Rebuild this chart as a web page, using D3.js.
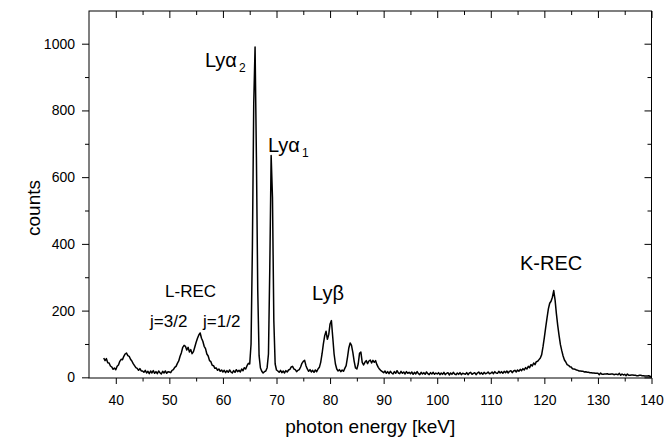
<!DOCTYPE html>
<html>
<head>
<meta charset="utf-8">
<script src="https://cdn.jsdelivr.net/npm/d3@7"></script>
<style>
  body { margin: 0; background: #fff; }
  svg { font-family: "Liberation Sans", Arial, Helvetica, sans-serif; }
  .axis text { font-size: 14px; fill: #000; }
  .axis line, .axis path { stroke: #000; }
</style>
</head>
<body>
<div id="chart"></div>
<script>
// spectrum channels: 0.25 keV wide, first channel at 37.75 keV
var energyStart = 37.75,
energyStep = 0.25;

var counts = [
  /* 37.75 */ 58, 50, 56, 44, 43, 34, 31, 24, 28,
  /* 40 */ 23, 33, 37, 48, 54, 53, 63, 70, 73, 65, 63, 54, 49, 41, 35, 29, 27, 21, 26, 19,
  /* 45 */ 19, 15, 21, 13, 18, 11, 19, 13, 20, 12, 17, 11, 19, 14, 10, 18, 13, 19, 12, 17,
  /* 50 */ 16, 14, 21, 23, 30, 33, 42, 49, 63, 74, 90, 96, 93, 82, 90, 76, 83, 71, 77, 91,
  /* 55 */ 105, 117, 127, 133, 117, 108, 93, 86, 70, 64, 50, 47, 36, 35, 27, 28, 21, 25, 18, 22,
  /* 60 */ 16, 21, 14, 20, 15, 22, 16, 13, 20, 15, 23, 17, 21, 16, 25, 20, 29, 25, 35, 42,
  /* 65 */ 40, 100, 390, 820, 990, 660, 260, 65, 28, 18, 13, 17, 19, 29, 70, 330, 665, 540, 170, 40,
  /* 70 */ 22, 19, 15, 21, 14, 19, 13, 20, 16, 22, 24, 31, 33, 25, 23, 17, 21, 23, 31, 42,
  /* 75 */ 48, 51, 35, 25, 18, 23, 16, 21, 15, 22, 17, 25, 30, 45, 70, 100, 125, 138, 114, 128,
  /* 80 */ 160, 170, 120, 70, 40, 25, 19, 23, 17, 22, 18, 27, 35, 60, 88, 103, 96, 75, 48, 28,
  /* 85 */ 25, 40, 72, 76, 45, 37, 45, 50, 41, 49, 52, 43, 51, 45, 50, 38, 30, 24, 20, 17,
  /* 90 */ 14, 19, 12, 17, 11, 18, 13, 10, 17, 12, 20, 13, 11, 18, 12, 16, 10, 17, 12, 15,
  /* 95 */ 11, 16, 9, 15, 10, 17, 11, 8, 15, 10, 14, 9, 16, 11, 8, 14, 10, 15, 9, 13,
  /* 100 */ 10, 14, 8, 13, 9, 15, 8, 12, 14, 7, 13, 9, 15, 10, 8, 13, 9, 14, 8, 12,
  /* 105 */ 11, 9, 14, 8, 13, 15, 9, 12, 14, 8, 13, 16, 10, 14, 9, 15, 11, 12, 16, 11,
  /* 110 */ 12, 16, 11, 17, 13, 12, 18, 13, 17, 12, 18, 14, 19, 13, 18, 20, 14, 19, 21, 16,
  /* 115 */ 22, 18, 24, 20, 26, 22, 29, 25, 33, 29, 38, 34, 43, 38, 47, 48, 53, 58, 68, 92,
  /* 120 */ 120, 150, 178, 205, 222, 228, 240, 260, 232, 190, 155, 125, 98, 80, 64, 52, 46, 38, 36, 32,
  /* 125 */ 31, 26, 25, 24, 22, 21, 19, 19, 18, 18, 16, 17, 15, 15, 14, 14, 13, 13, 12, 12,
  /* 130 */ 12, 8, 13, 9, 9, 10, 10, 11, 9, 9, 10, 10, 8, 9, 9, 8, 12, 6, 10, 7,
  /* 135 */ 9, 5, 10, 6, 6, 7, 7, 6, 6, 5, 5, 6, 6, 5, 5, 4, 4, 4, 5, 2,
  /* 140 */ 3
];

var xMajorTicks = [40, 50, 60, 70, 80, 90, 100, 110, 120, 130, 140];
var xMinorTicks = [45, 55, 65, 75, 85, 95, 105, 115, 125, 135];
var yMajorTicks = [0, 200, 400, 600, 800, 1000];
var yMinorTicks = [100, 300, 500, 700, 900];

// peak labels, anchored in data units (keV, counts)
var labelNames = ["Ly", "Ly", "Ly", "K-REC", "L-REC", "j=3/2", "j=1/2"];
var labelGreek = ["α", "α", "β", "", "", "", ""];
var labelSubs = ["2", "1", "", "", "", "", ""];
var labelEnergy = [56.65, 68.41, 76.63, 115.46, 49.19, 46.39, 56.28];
var labelCounts = [930, 675, 233, 323, 241, 151, 151];
var labelBig = [true, true, true, true, false, false, false];

var width = 670,
height = 443,
plotLeft = 89,
plotRight = 651.5,
plotTop = 11,
plotBottom = 378;

var svg = d3.select("#chart").append("svg")
.attr("width", width)
.attr("height", height);

var x = d3.scaleLinear().domain([35, 140]).range([plotLeft, plotRight]);
var y = d3.scaleLinear().domain([-2, 1098]).range([plotBottom, plotTop]);

// frame
svg.append("rect")
.attr("x", plotLeft).attr("y", plotTop)
.attr("width", plotRight - plotLeft).attr("height", plotBottom - plotTop)
.attr("fill", "none").attr("stroke", "#000").attr("stroke-width", 1);

function noDomain(g) { g.select(".domain").remove(); g.attr("font-family", null); }

// bottom axis
svg.append("g").attr("class", "axis")
.attr("transform", "translate(0," + plotBottom + ")")
.call(d3.axisBottom(x).tickValues(xMajorTicks).tickSizeInner(6).tickSizeOuter(0).tickPadding(11).tickFormat(d3.format("d")))
.call(noDomain);

svg.append("g").attr("class", "axis")
.attr("transform", "translate(0," + plotBottom + ")")
.call(d3.axisBottom(x).tickValues(xMinorTicks).tickSizeInner(3.5).tickSizeOuter(0).tickFormat(""))
.call(noDomain);

// top axis, ticks inward
svg.append("g").attr("class", "axis")
.attr("transform", "translate(0," + plotTop + ")")
.call(d3.axisTop(x).tickValues(xMajorTicks).tickSizeInner(-7).tickSizeOuter(0).tickFormat(""))
.call(noDomain);

svg.append("g").attr("class", "axis")
.attr("transform", "translate(0," + plotTop + ")")
.call(d3.axisTop(x).tickValues(xMinorTicks).tickSizeInner(-4).tickSizeOuter(0).tickFormat(""))
.call(noDomain);

// left axis
svg.append("g").attr("class", "axis")
.attr("transform", "translate(" + plotLeft + ",0)")
.call(d3.axisLeft(y).tickValues(yMajorTicks).tickSizeInner(7).tickSizeOuter(0).tickPadding(7).tickFormat(d3.format("d")))
.call(noDomain);

svg.append("g").attr("class", "axis")
.attr("transform", "translate(" + plotLeft + ",0)")
.call(d3.axisLeft(y).tickValues(yMinorTicks).tickSizeInner(4).tickSizeOuter(0).tickFormat(""))
.call(noDomain);

// right axis, ticks inward
svg.append("g").attr("class", "axis")
.attr("transform", "translate(" + plotRight + ",0)")
.call(d3.axisRight(y).tickValues(yMajorTicks).tickSizeInner(-7).tickSizeOuter(0).tickFormat(""))
.call(noDomain);

svg.append("g").attr("class", "axis")
.attr("transform", "translate(" + plotRight + ",0)")
.call(d3.axisRight(y).tickValues(yMinorTicks).tickSizeInner(-4).tickSizeOuter(0).tickFormat(""))
.call(noDomain);

// the spectrum
var line = d3.line()
.x(function(d, i) { return x(energyStart + i * energyStep); })
.y(function(d) { return y(d); });

svg.append("path")
.datum(counts)
.attr("d", line)
.attr("fill", "none")
.attr("stroke", "#000")
.attr("stroke-width", 1.5)
.attr("stroke-linejoin", "round");

// axis titles
svg.append("text")
.attr("x", (plotLeft + plotRight) / 2)
.attr("y", 433)
.attr("text-anchor", "middle")
.attr("font-size", 19)
.text("photon energy [keV]");

svg.append("text")
.attr("transform", "translate(40,208) rotate(-90)")
.attr("text-anchor", "middle")
.attr("font-size", 19)
.text("counts");

// peak labels
labelNames.forEach(function(name, i) {
  var t = svg.append("text")
  .attr("x", x(labelEnergy[i]))
  .attr("y", y(labelCounts[i]))
  .attr("font-size", labelBig[i] ? 20 : 17);
  t.append("tspan").text(name);
  if (labelGreek[i]) t.append("tspan").text(labelGreek[i]);
  if (labelSubs[i]) {
    t.append("tspan")
    .attr("dx", 2)
    .attr("dy", 5)
    .attr("font-size", 12)
    .text(labelSubs[i]);
  }
});
</script>
</body>
</html>
